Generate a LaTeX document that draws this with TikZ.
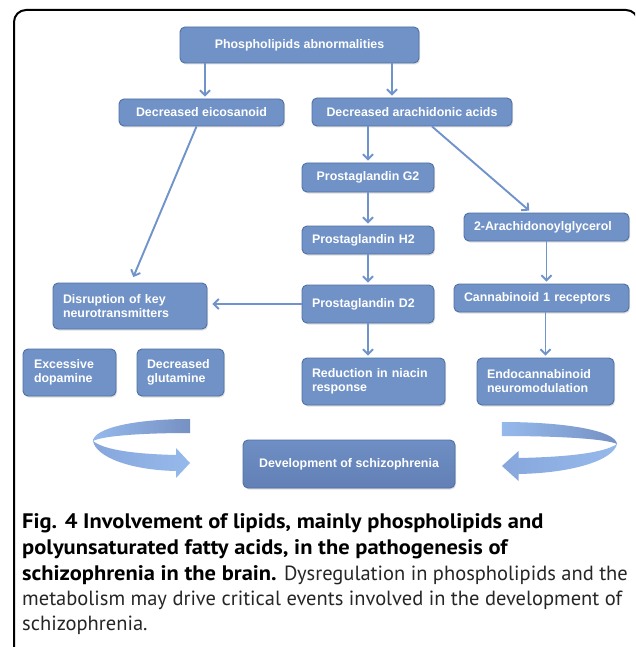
\documentclass[tikz,border=0pt]{standalone}
\usepackage{fontspec}
\setmainfont{Liberation Sans}
\newfontfamily\capfont{PT Sans}
\newfontfamily\capbold[FakeStretch=1.07]{PT Sans Bold}
\usetikzlibrary{arrows.meta,shadows,calc}
\definecolor{boxfill}{RGB}{112,146,198}
\definecolor{boxedge}{RGB}{80,112,166}
\definecolor{arrowc}{RGB}{113,147,203}
\definecolor{ribdark}{RGB}{118,145,196}
\definecolor{ribmid}{RGB}{135,167,220}
\definecolor{riblight}{RGB}{150,185,235}
\definecolor{devtop}{RGB}{110,142,196}
\definecolor{devbot}{RGB}{98,128,182}
\begin{document}
\begin{tikzpicture}[x=1pt,y=-1pt,
  box/.style={draw=boxedge, line width=0.9pt, fill=boxfill, rounded corners=5pt,
    text=white, font=\bfseries\fontsize{12.4}{14}\selectfont, inner sep=0pt,
    drop shadow={shadow xshift=1pt, shadow yshift=-1.5pt, opacity=0.25}},
  cbox/.style={box, align=center},
  lbox/.style={box, align=left, inner xsep=10pt},
  arr/.style={draw=arrowc, line width=1.9pt, -{Straight Barb[length=5pt,width=10pt]}, shorten >=2pt},
  captext/.style={font=\capfont\fontsize{20.5}{24}\selectfont, inner sep=0pt, anchor=base west, text=black!85},
  frame/.style={draw=black, line width=2pt, rounded corners=12pt}
]
\newcommand\capb[1]{{\capbold\fontsize{21}{24}\selectfont\color{black}#1}}
\path[use as bounding box] (0,0) rectangle (635,647);
\clip (0,0) rectangle (635,647);
\fill[white] (0,0) rectangle (635,647);
\draw[frame] (638,700) -- (638,10) -- (14,10) -- (14,700);

% boxes
\node[cbox, minimum width=239pt, minimum height=36pt] (pab) at (299.5,45) {Phospholipids abnormalities};
\node[cbox, minimum width=165pt, minimum height=27pt] (eic) at (201.5,112.5) {Decreased eicosanoid};
\node[cbox, minimum width=200pt, minimum height=28pt] (ara) at (412,112) {Decreased arachidonic acids};
\node[cbox, minimum width=132pt, minimum height=29pt] (g2) at (368,177.5) {Prostaglandin G2};
\node[lbox, text width=112pt, minimum height=28pt] (h2) at (368,240) {Prostaglandin H2};
\node[lbox, text width=112pt, minimum height=38pt] (d2) at (368,304) {Prostaglandin D2};
\node[lbox, text width=123pt, minimum height=47pt] (red) at (373.5,381.5) {Reduction in niacin\\response};
\node[lbox, text width=145pt, minimum height=28pt] (ag) at (546.5,227) {2-Arachidonoylglycerol};
\node[lbox, text width=155pt, minimum height=28pt] (cb) at (541.5,298) {Cannabinoid 1 receptors};
\node[lbox, text width=117pt, minimum height=47pt] (endo) at (545.5,381.5) {Endocannabinoid\\neuromodulation};
\node[lbox, text width=134pt, minimum height=46pt] (dis) at (130,306) {Disruption of key\\neurotransmitters};
\node[lbox, text width=71pt, inner xsep=11pt, minimum height=47pt] (dop) at (69.5,372.5) {Excessive\\dopamine};
\node[lbox, text width=67pt, minimum height=47pt] (glu) at (180.5,372.5) {Decreased\\glutamine};
\node[cbox, minimum width=212pt, minimum height=48pt, top color=devtop, bottom color=devbot] (dev) at (349,464) {Development of schizophrenia};

% connectors
\draw[arr] ([xshift=3.5pt]eic.north |- pab.south) -- ([xshift=3.5pt]eic.north);
\draw[arr] ([xshift=-20pt]ara.north |- pab.south) -- ([xshift=-20pt]ara.north);
\draw[arr] (g2.north |- ara.south) -- (g2.north);
\draw[arr] (g2.south) -- (h2.north);
\draw[arr] (h2.south) -- (d2.north);
\draw[arr] (d2.south) -- (d2.south |- red.north);
\draw[arr] (ag.south) -- (ag.south |- cb.north);
\draw[arr] (endo.north |- cb.south) -- (endo.north);
\draw[arr, shorten >=5pt] (d2.west) -- (d2.west -| dis.east);
\draw[arr, shorten >=6pt] ([xshift=-5pt]eic.south) -- ([xshift=1pt]dis.north);
\draw[arr, shorten >=3pt] ([xshift=20pt]ara.south) -- ([xshift=-15pt]ag.north);

% curved ribbon arrows
\begin{scope}
  \shade[left color=riblight, right color=ribdark] (190,419) .. controls (135,419) and (94,428) .. (93,441) .. controls (102,436) and (140,433) .. (190,433) -- cycle;
  \shade[left color=ribmid, right color=riblight] (93,441) .. controls (96,457) and (130,470) .. (176,471) -- (176,478) -- (190,463) -- (176,448) -- (176,455) .. controls (135,454) and (104,450) .. (93,441) -- cycle;
\end{scope}
\begin{scope}[shift={(727.3,3)}, xscale=-1.186]
  \shade[left color=riblight, right color=ribdark] (190,419) .. controls (135,419) and (94,428) .. (93,441) .. controls (102,436) and (140,433) .. (190,433) -- cycle;
  \shade[left color=ribmid, right color=riblight] (93,441) .. controls (96,457) and (130,470) .. (176,471) -- (176,478) -- (190,463) -- (176,448) -- (176,455) .. controls (135,454) and (104,450) .. (93,441) -- cycle;
\end{scope}

% caption
\node[captext] (c1) at (22,528) {\capb{Fig. 4 Involvement of lipids, mainly phospholipids and}};
\node[captext] (c2) at (22,554) {\capb{polyunsaturated fatty acids, in the pathogenesis of}};
\node[captext] (c3) at (22,580) {\capb{schizophrenia in the brain.} Dysregulation in phospholipids and the};
\node[captext] (c4) at (22,605) {metabolism may drive critical events involved in the development of};
\node[captext] (c5) at (22,630) {schizophrenia.};
\end{tikzpicture}
\end{document}
